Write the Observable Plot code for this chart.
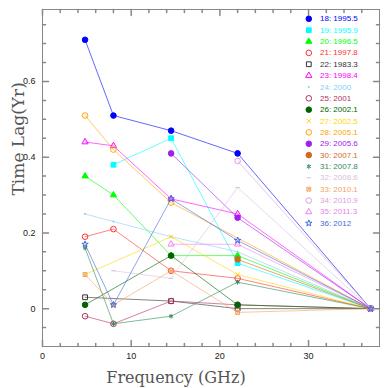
<!DOCTYPE html>
<html><head><meta charset="utf-8">
<script src="https://cdn.jsdelivr.net/npm/d3@7"></script>
<script src="https://cdn.jsdelivr.net/npm/@observablehq/plot@0.6"></script>
<style>body{margin:0;background:#fff;}</style>
</head><body><div id="chart"></div>
<script>
// Frequencies (GHz)
const freqs = [4.8, 8, 14.5, 22, 37];
// Series labels, colours, markers
const labels = ["18: 1995.5","19: 1995.9","20: 1996.5","21: 1997.8","22: 1983.3","23: 1998.4","24: 2000","25: 2001","26: 2002.1","27: 2002.5","28: 2005.1","29: 2005.6","30: 2007.1","31: 2007.8","32: 2008.6","33: 2010.1","34: 2010.9","35: 2011.3","36: 2012"];
const colors = ["#0000ff","#00ffff","#00ff00","#ff3030","#333333","#ff00ff","#87cefa","#b03060","#006400","#ffd700","#ffa500","#a020f0","#d2691e","#2e8b57","#d8bfd8","#f4a460","#dda0dd","#ee82ee","#4169e1"];
const markers = ["circle","square","triangle","circle","square","triangle","dot","circle","circle","times","circle","circle","circle","asterisk","dash","squarecross","circle","triangle","star"];
const filled = [true,true,true,false,false,false,true,false,true,false,false,true,true,false,false,false,false,false,false];
// Time lags (yr) at each frequency; null = not measured
const s18 = [0.71, 0.51, 0.47, 0.41, 0];
const s19 = [null, 0.38, 0.45, 0.12, 0];
const s20 = [0.35, 0.30, 0.14, 0.14, 0];
const s21 = [0.19, 0.21, 0.10, 0.08, 0];
const s22 = [0.03, null, 0.02, 0.00, 0];
const s23 = [0.44, 0.43, 0.29, 0.25, 0];
const s24 = [0.25, 0.23, 0.19, 0.15, 0];
const s25 = [-0.02, -0.04, 0.02, 0.01, 0];
const s26 = [0.01, null, 0.14, 0.01, 0];
const s27 = [0.09, null, 0.19, 0.09, 0];
const s28 = [0.51, 0.42, 0.28, null, 0];
const s29 = [null, null, 0.41, 0.24, 0];
const s30 = [null, null, null, 0.13, 0];
const s31 = [0.16, -0.04, -0.02, 0.07, 0];
const s32 = [null, 0.10, 0.08, 0.32, 0];
const s33 = [0.09, 0.01, 0.10, -0.01, 0];
const s34 = [null, null, null, 0.39, 0];
const s35 = [null, null, 0.17, 0.17, 0];
const s36 = [0.17, 0.01, 0.29, 0.18, 0];
const seriesValues = [s18,s19,s20,s21,s22,s23,s24,s25,s26,s27,s28,s29,s30,s31,s32,s33,s34,s35,s36];
// Tick values
const xMajor = [0, 10, 20, 30];
const xMinor = [2,4,6,8,12,14,16,18,22,24,26,28,32,34,36];
const yMajor = [0, 0.2, 0.4, 0.6];
const yMinor = [-0.05,0.05,0.1,0.15,0.25,0.3,0.35,0.45,0.5,0.55,0.65,0.7,0.75];

const dash = {draw(ctx, size){ const r = Math.sqrt(size/Math.PI); ctx.moveTo(-r,0); ctx.lineTo(r,0); }};
const tickUp = {draw(ctx, l){ ctx.moveTo(0,0); ctx.lineTo(0,-l); }};
const tickDown = {draw(ctx, l){ ctx.moveTo(0,0); ctx.lineTo(0,l); }};
const tickRight = {draw(ctx, l){ ctx.moveTo(0,0); ctx.lineTo(l,0); }};
const tickLeft = {draw(ctx, l){ ctx.moveTo(0,0); ctx.lineTo(-l,0); }};

const markerSize = {circle: 2.8, square: 2.7, triangle: 2.3, times: 2.0, asterisk: 2.2, star: 2.0};

function markerMarks(data, i, opts) {
  const m = markers[i], c = colors[i];
  const base = {...opts, stroke: c, strokeWidth: 1};
  if (m === "dot") return [Plot.dot(data, {...base, r: 0.6, fill: c})];
  if (m === "dash") return [Plot.dot(data, {...base, symbol: dash, r: 2.2})];
  if (m === "squarecross") return [Plot.dot(data, {...base, symbol: "square", r: 2.2, fill: "none"}), Plot.dot(data, {...base, symbol: "times", r: 1.8})];
  return [Plot.dot(data, {...base, symbol: m, r: markerSize[m], fill: filled[i] ? c : "none"})];
}

const marks = [Plot.frame({stroke: "#888"})];
// ticks inside the frame on all sides
for (const [vals, len] of [[xMajor, 6], [xMinor, 3]]) {
  marks.push(Plot.vector(vals, {x: d => d, frameAnchor: "bottom", length: len, anchor: "start", shape: tickUp, stroke: "#888"}));
  marks.push(Plot.vector(vals, {x: d => d, frameAnchor: "top", length: len, anchor: "start", shape: tickDown, stroke: "#888"}));
}
for (const [vals, len] of [[yMajor, 6], [yMinor, 3]]) {
  marks.push(Plot.vector(vals, {y: d => d, frameAnchor: "left", length: len, anchor: "start", shape: tickRight, stroke: "#888"}));
  marks.push(Plot.vector(vals, {y: d => d, frameAnchor: "right", length: len, anchor: "start", shape: tickLeft, stroke: "#888"}));
}
marks.push(Plot.axisX({ticks: xMajor, tickSize: 0, tickPadding: 6, label: null, fontSize: 9, fill: "#222", fontFamily: "Liberation Sans, Arial, sans-serif"}));
marks.push(Plot.axisY({ticks: yMajor, tickSize: 0, tickPadding: 7, label: null, fontSize: 9, fill: "#222", tickFormat: d3.format("~g"), fontFamily: "Liberation Sans, Arial, sans-serif"}));

seriesValues.forEach((vals, i) => {
  const data = [];
  vals.forEach((v, j) => { if (v != null) data.push({freq: freqs[j], lag: v}); });
  marks.push(Plot.line(data, {x: "freq", y: "lag", stroke: colors[i], strokeWidth: 1, strokeOpacity: 0.6}));
  marks.push(...markerMarks(data, i, {x: "freq", y: "lag"}));
});

// legend inside top-right
labels.forEach((lab, i) => {
  const dy = 9.3 + i * 11.36;
  marks.push(...markerMarks([0], i, {frameAnchor: "top-right", dx: -70.7, dy}));
  marks.push(Plot.text([lab], {frameAnchor: "top-right", dx: -59.5, dy, textAnchor: "start", lineAnchor: "middle", fill: colors[i], fontSize: 8, fontFamily: "Liberation Sans, Arial, sans-serif"}));
});

// axis titles
marks.push(Plot.text(["Frequency (GHz)"], {frameAnchor: "bottom", dx: -35, dy: 25, lineAnchor: "top", fontSize: 16, fill: "#555", fontFamily: "DejaVu Serif, serif"}));
marks.push(Plot.text(["Time Lag(Yr)"], {frameAnchor: "left", dx: -18.7, dy: 17.5, rotate: -90, lineAnchor: "bottom", fontSize: 17, fill: "#555", fontFamily: "DejaVu Serif, serif"}));

const chart = Plot.plot({
  width: 388, height: 388,
  marginLeft: 42, marginRight: 9, marginTop: 9, marginBottom: 42,
  x: {domain: [0, 38]},
  y: {domain: [-0.1, 0.79]},
  style: {background: "#fff", overflow: "visible"},
  marks
});
document.getElementById("chart").appendChild(chart);
</script>
</body></html>
